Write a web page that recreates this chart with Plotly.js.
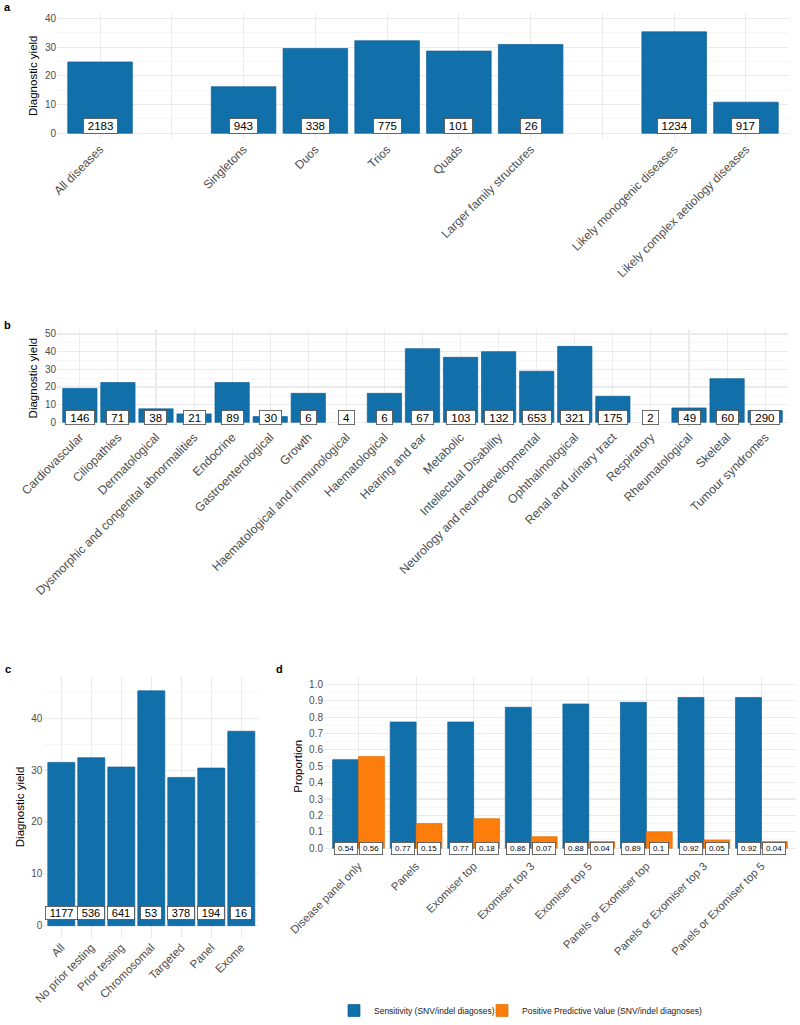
<!DOCTYPE html>
<html>
<head>
<meta charset="utf-8">
<script src="https://cdn.plot.ly/plotly-3.0.1.min.js"></script>
<style>html,body{margin:0;padding:0;background:#fff;}#chart{width:800px;height:1025px;}</style>
</head>
<body>
<div id="chart"></div>
<script>
// ---------- DATA ----------
// Panel a
const catsA = ['All diseases', ' ', 'Singletons', 'Duos', 'Trios', 'Quads', 'Larger family structures', '  ', 'Likely monogenic diseases', 'Likely complex aetiology diseases'];
const yieldA = [24.8, null, 16.2, 29.5, 32.2, 28.6, 30.9, null, 35.3, 10.8];
const countA = [2183, null, 943, 338, 775, 101, 26, null, 1234, 917];

// Panel b
const catsB = ['Cardiovascular', 'Ciliopathies', 'Dermatological', 'Dysmorphic and congenital abnormalities', 'Endocrine', 'Gastroenterological', 'Growth', 'Haematological and immunological', 'Haematological', 'Hearing and ear', 'Metabolic', 'Intellectual Disability', 'Neurology and neurodevelopmental', 'Ophthalmological', 'Renal and urinary tract', 'Respiratory', 'Rheumatological', 'Skeletal', 'Tumour syndromes'];
const yieldB = [19.1, 22.5, 7.6, 4.7, 22.5, 3.2, 16.4, 0, 16.4, 41.7, 36.8, 40.0, 28.9, 43.0, 14.7, 0, 8.1, 24.7, 6.6];
const countB = [146, 71, 38, 21, 89, 30, 6, 4, 6, 67, 103, 132, 653, 321, 175, 2, 49, 60, 290];

// Panel c
const catsC = ['All', 'No prior testing', 'Prior testing', 'Chromosomal', 'Targeted', 'Panel', 'Exome'];
const yieldC = [31.5, 32.4, 30.6, 45.3, 28.6, 30.4, 37.5];
const countC = [1177, 536, 641, 53, 378, 194, 16];

// Panel d
const catsD = ['Disease panel only', 'Panels', 'Exomiser top', 'Exomiser top 3', 'Exomiser top 5', 'Panels or Exomiser top', 'Panels or Exomiser top 3', 'Panels or Exomiser top 5'];
const sensitivityD = [0.54, 0.77, 0.77, 0.86, 0.88, 0.89, 0.92, 0.92];
const ppvD = [0.56, 0.15, 0.18, 0.07, 0.04, 0.1, 0.05, 0.04];
const seriesNamesD = ['Sensitivity (SNV/indel diagoses)', 'Positive Predictive Value (SNV/indel diagnoses)'];

// ---------- STYLE ----------
const FONT = '"Liberation Sans", Arial, Helvetica, sans-serif';
const BLUE = '#1170AA', BLUE_EDGE = '#0E5F96';
const ORANGE = '#FC7D0B', ORANGE_EDGE = '#E86F05';
const GRID = '#EBEBEB', GRID_MINOR = '#F2F2F2';
const W = 800, H = 1025;
const LABEL_Y = 2.5;

const px = (a, b) => [a / W, b / W];
const py = (top, bottom) => [1 - bottom / H, 1 - top / H];

const canvas = document.createElement('canvas');
const ctx = canvas.getContext('2d');
function textW(t, size) { ctx.font = size + 'px ' + FONT; return ctx.measureText(t).width; }

function barTrace(x, y, xa, ya, color, edge, name, show, legendId) {
  const tr = { type: 'bar', x: x, y: y, xaxis: xa, yaxis: ya, name: name, showlegend: !!show,
    marker: { color: color, line: { color: edge, width: y.map(v => (v ? 0.7 : 0)) } }, hoverinfo: 'skip' };
  if (legendId) tr.legend = legendId;
  return tr;
}

const data = [
  barTrace(catsA, yieldA, 'x', 'y', BLUE, BLUE_EDGE, 'a', false),
  barTrace(catsB, yieldB, 'x2', 'y2', BLUE, BLUE_EDGE, 'b', false),
  barTrace(catsC, yieldC, 'x3', 'y3', BLUE, BLUE_EDGE, 'c', false),
  barTrace(catsD, sensitivityD, 'x4', 'y4', BLUE, BLUE_EDGE, seriesNamesD[0], true, 'legend'),
  barTrace(catsD, ppvD, 'x4', 'y4', ORANGE, ORANGE_EDGE, seriesNamesD[1], true, 'legend2')
];

const annotations = [];
function addLabels(cats, counts, xa, ya, yval, size, h, pad, xshift) {
  cats.forEach((c, i) => {
    const v = counts[i];
    if (v === null || v === undefined) return;
    const t = String(v);
    annotations.push({ x: c, y: yval, xref: xa, yref: ya, text: t, showarrow: false,
      xshift: xshift || 0, yanchor: 'middle', xanchor: 'center',
      font: { family: FONT, size: size, color: '#000' },
      bgcolor: '#FFFFFF', bordercolor: '#4A4A4A', borderwidth: 0.8, borderpad: 0,
      width: textW(t, size) + pad, height: h });
  });
}
addLabels(catsA, countA, 'x', 'y', LABEL_Y, 11.5, 14, 8);
addLabels(catsB, countB, 'x2', 'y2', LABEL_Y, 11.5, 13.5, 9);
addLabels(catsC, countC, 'x3', 'y3', LABEL_Y, 11, 12.5, 8);
const dPlotW = 472, dUnits = catsD.length - 1 + 1.2;
const dOff = 0.225 * dPlotW / dUnits;
addLabels(catsD, sensitivityD, 'x4', 'y4', 0, 8, 11, 7, -dOff);
addLabels(catsD, ppvD, 'x4', 'y4', 0, 8, 11, 7, dOff);

// panel letters
[['a', 7, 7.5], ['b', 7.5, 325.5], ['c', 7.5, 670], ['d', 279, 670]].forEach(p => {
  annotations.push({ text: '<b>' + p[0] + '</b>', x: p[1] / W, y: 1 - p[2] / H, xref: 'paper', yref: 'paper',
    showarrow: false, xanchor: 'center', yanchor: 'middle', font: { family: FONT, size: 11, color: '#000' } });
});

function xAx(domain, anchor, cats, size) {
  return { domain: domain, anchor: anchor, type: 'category', categoryorder: 'array', categoryarray: cats,
    range: [-0.6, cats.length - 0.4], showgrid: true, gridcolor: GRID, gridwidth: 1.1,
    tickangle: -45, ticks: '', zeroline: false, showline: false, fixedrange: true,
    tickfont: { family: FONT, size: size, color: '#4D4D4D' } };
}
function yAx(domain, anchor, range, dtick, minor, title, fmt) {
  return { domain: domain, anchor: anchor, range: range, tick0: 0, dtick: dtick, tickformat: fmt || '',
    showgrid: true, gridcolor: GRID, gridwidth: 1.1, zeroline: false, showline: false, ticks: '',
    minor: { dtick: minor, tick0: 0, showgrid: true, gridcolor: GRID_MINOR, gridwidth: 0.7, ticks: '' },
    tickfont: { family: FONT, size: 10, color: '#4D4D4D' }, fixedrange: true,
    title: { text: title, font: { family: FONT, size: 11.5, color: '#000' }, standoff: 4 } };
}
function legendAt(xPx) {
  return { orientation: 'h', x: xPx / W, y: 1 - 1011.5 / H, xanchor: 'left', yanchor: 'middle',
    font: { family: FONT, size: 8.5, color: '#222' }, bgcolor: 'rgba(0,0,0,0)', itemwidth: 30 };
}

const layout = {
  width: W, height: H, margin: { l: 0, r: 0, t: 0, b: 0, pad: 0 },
  paper_bgcolor: '#FFFFFF', plot_bgcolor: '#FFFFFF',
  font: { family: FONT, size: 10, color: '#4D4D4D' },
  barmode: 'group', bargap: 0.1, bargroupgap: 0,
  showlegend: true,
  legend: legendAt(334),
  legend2: legendAt(482),
  xaxis: xAx(px(57, 789), 'y', catsA, 12),
  yaxis: yAx(py(12.6, 139.1), 'x', [-2, 42], 10, 5, 'Diagnostic yield'),
  xaxis2: xAx(px(57, 788), 'y2', catsB, 12.2),
  yaxis2: yAx(py(329.9, 427.1), 'x2', [-2.5, 52.5], 10, 5, 'Diagnostic yield'),
  xaxis3: xAx(px(43.3, 259.3), 'y3', catsC, 11.5),
  yaxis3: yAx(py(677, 938.5), 'x3', [-2.3, 48.1], 10, 5, 'Diagnostic yield'),
  xaxis4: xAx(px(324, 796), 'y4', catsD, 11.3),
  yaxis4: yAx(py(676.8, 857.2), 'x4', [-0.05, 1.05], 0.1, 0.05, 'Proportion', '.1f'),
  annotations: annotations
};

Plotly.newPlot('chart', data, layout, { staticPlot: true, displayModeBar: false });
</script>
</body>
</html>
